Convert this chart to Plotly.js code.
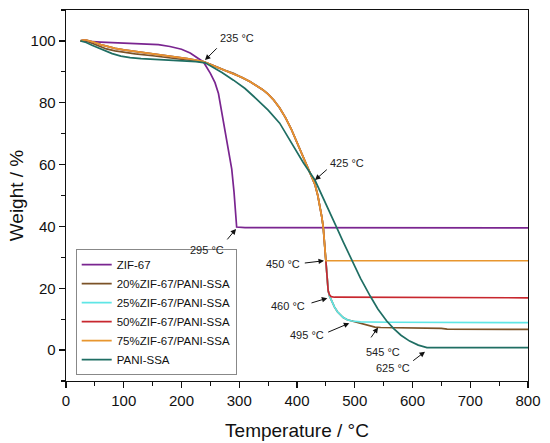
<!DOCTYPE html>
<html>
<head>
<meta charset="utf-8">
<script src="https://cdn.plot.ly/plotly-3.0.1.min.js"></script>
<style>html,body{margin:0;padding:0;background:#fff;}#chart{width:550px;height:443px;}</style>
</head>
<body>
<div id="chart"></div>
<script>
// ---- data ----
var seriesNames = ["ZIF-67", "20%ZIF-67/PANI-SSA", "25%ZIF-67/PANI-SSA", "50%ZIF-67/PANI-SSA", "75%ZIF-67/PANI-SSA", "PANI-SSA"];

var zifT = [25, 40, 60, 100, 130, 160, 180, 200, 215, 228, 238, 250, 258, 264, 275, 287, 291, 294, 295.5, 310, 400, 500, 600, 700, 800];
var zifW = [100, 99.8, 99.6, 99.3, 99.1, 98.8, 98.2, 97.3, 96.1, 94.6, 93.2, 89.5, 86.5, 83, 71, 58.5, 51, 44, 39.8, 39.6, 39.6, 39.6, 39.5, 39.5, 39.5];

var c75T = [25, 30, 35, 40, 50, 60, 70, 85, 100, 120, 150, 180, 210, 238, 250, 260, 275, 290, 305, 319, 330, 340, 350, 360, 370, 380, 390, 395, 405, 417, 425, 431, 436, 440, 443, 445.5, 447.5, 449, 450, 600, 800];
var c75W = [100, 100.3, 100.3, 100.1, 99.5, 98.8, 98.3, 97.6, 97.1, 96.6, 95.9, 95.2, 94.3, 93.3, 92.4, 91.6, 90.5, 89.5, 88.2, 86.8, 85.5, 84.3, 82.8, 80.8, 78.3, 75.2, 71.5, 69.3, 64.7, 59.3, 56.3, 53.6, 50, 46.5, 43, 39.6, 35, 31, 28.9, 28.9, 28.9];

var c50T = [25, 30, 35, 40, 50, 60, 70, 85, 100, 120, 150, 180, 210, 238, 250, 260, 275, 290, 305, 319, 330, 340, 350, 360, 370, 380, 390, 395, 405, 417, 425, 431, 436, 440, 443, 445.5, 447.5, 449, 450, 451, 452.5, 454, 456, 459, 465, 600, 800];
var c50W = [100, 100.3, 100.3, 100.1, 99.5, 98.8, 98.3, 97.6, 97.1, 96.6, 95.9, 95.2, 94.3, 93.3, 92.4, 91.6, 90.5, 89.5, 88.2, 86.8, 85.5, 84.3, 82.8, 80.8, 78.3, 75.2, 71.5, 69.3, 64.7, 59.3, 56.3, 53.6, 50, 46.5, 43, 39.6, 35, 31, 28.9, 25, 21.5, 19.2, 18, 17.3, 17.1, 17.0, 16.9];

var c25T = [25, 30, 35, 40, 50, 60, 70, 85, 100, 120, 150, 180, 210, 238, 250, 260, 275, 290, 305, 319, 330, 340, 350, 360, 370, 380, 390, 395, 405, 417, 425, 431, 436, 440, 443, 445.5, 447.5, 449, 450, 451, 452.5, 454, 456, 460, 465, 470, 475, 480, 487, 495, 510, 560, 800];
var c25W = [100, 100.3, 100.3, 100.1, 99.5, 98.8, 98.3, 97.6, 97.1, 96.6, 95.9, 95.2, 94.3, 93.3, 92.4, 91.6, 90.5, 89.5, 88.2, 86.8, 85.5, 84.3, 82.8, 80.8, 78.3, 75.2, 71.5, 69.3, 64.7, 59.3, 56.3, 53.6, 50, 46.5, 43, 39.6, 35, 31, 28.9, 25, 21.5, 19.2, 17.6, 15.8, 13.9, 12.4, 11.3, 10.5, 9.8, 9.4, 9.1, 9.0, 8.9];

var c20T = [25, 30, 35, 40, 50, 60, 70, 85, 100, 120, 150, 180, 210, 238, 250, 260, 275, 290, 305, 319, 330, 340, 350, 360, 370, 380, 390, 395, 405, 417, 425, 431, 436, 440, 443, 445.5, 447.5, 449, 450, 451, 452.5, 454, 456, 460, 465, 470, 475, 480, 487, 495, 505, 515, 525, 535, 545, 640, 650, 660, 800];
var c20W = [100, 100.2, 100.0, 99.6, 98.8, 98.0, 97.4, 96.8, 96.3, 95.8, 95.2, 94.6, 93.8, 93.2, 92.4, 91.6, 90.5, 89.5, 88.2, 86.8, 85.5, 84.3, 82.8, 80.8, 78.3, 75.2, 71.5, 69.3, 64.7, 59.3, 56.3, 53.6, 50, 46.5, 43, 39.6, 35, 31, 28.9, 25, 21.5, 19.2, 17.6, 15.8, 13.9, 12.4, 11.3, 10.5, 9.8, 9.4, 8.9, 8.3, 7.8, 7.45, 7.3, 7.2, 7.0, 6.8, 6.7];

var paniT = [25, 35, 45, 55, 65, 80, 95, 111, 130, 150, 180, 203, 225, 241, 255, 270, 290, 310, 330, 350, 370, 390, 411, 431, 450, 469, 480, 495, 510, 527, 540, 555, 567, 580, 595, 610, 625, 700, 800];
var paniW = [100, 99.5, 98.6, 97.8, 96.9, 95.9, 95.1, 94.6, 94.3, 94.1, 93.8, 93.6, 93.3, 92.9, 91.4, 89.8, 87.3, 84.6, 81.2, 77.6, 73.4, 67, 60.6, 55, 47, 39.5, 35, 29.2, 23.2, 17.4, 13.3, 9.5, 7.0, 4.8, 2.9, 1.6, 0.8, 0.8, 0.8];

var seriesColors = ["#7A2590", "#7B5227", "#5FE6E6", "#C8272E", "#E8962E", "#1F6E63"];

var annLabels = ["235 °C", "425 °C", "295 °C", "450 °C", "460 °C", "495 °C", "545 °C", "625 °C"];

// ---- traces ----
var xs = [zifT, c20T, c25T, c50T, c75T, paniT];
var ys = [zifW, c20W, c25W, c50W, c75W, paniW];
var traces = xs.map(function (x, i) {
  return {
    x: x, y: ys[i], name: seriesNames[i], type: 'scatter', mode: 'lines',
    line: {color: seriesColors[i], width: 1.7}
  };
});

// ---- annotations: [tipX, tipY, tailX, tailY, textX, textY] ----
var annPos = [
  [240.7, 93.8, 263.7, 98.1, 296.1, 100.9],
  [431.2, 55.0, 454.2, 58.8, 487.4, 60.6],
  [294.4, 39.2, 277.1, 35.3, 244.2, 32.4],
  [446.8, 28.9, 410.9, 28.1, 376.3, 27.8],
  [452.5, 16.8, 422.5, 15.1, 384.9, 14.4],
  [490.6, 8.7, 451.4, 5.6, 416.8, 4.9],
  [540.3, 7.3, 526.4, 3.6, 548.9, -0.6],
  [621.6, -0.5, 598.6, -3.8, 566.8, -5.9]
];
var annotations = [];
annPos.forEach(function (p, i) {
  annotations.push({
    x: p[0], y: p[1], ax: p[2], ay: p[3], axref: 'x', ayref: 'y', xref: 'x', yref: 'y',
    text: '', showarrow: true, arrowhead: 2, arrowsize: 1.1, arrowwidth: 1, arrowcolor: '#111', standoff: 0
  });
  annotations.push({
    x: p[4], y: p[5], xref: 'x', yref: 'y', text: annLabels[i], showarrow: false,
    font: {family: 'Liberation Sans, Arial, sans-serif', size: 11, color: '#222'}
  });
});

var axisCommon = {
  showline: true, linecolor: '#111', linewidth: 1.4, mirror: true,
  ticks: 'outside', ticklen: 6, tickwidth: 1.2, tickcolor: '#111',
  showgrid: false, zeroline: false,
  tickfont: {family: 'Liberation Sans, Arial, sans-serif', size: 15, color: '#111'}
};

var layout = {
  width: 550, height: 443,
  margin: {l: 66, r: 22, t: 10, b: 62},
  paper_bgcolor: '#fff', plot_bgcolor: '#fff',
  showlegend: true,
  legend: {
    x: 0.021, y: 0.016, xanchor: 'left', yanchor: 'bottom',
    bgcolor: '#fff', bordercolor: '#888', borderwidth: 1,
    font: {family: 'Liberation Sans, Arial, sans-serif', size: 11.5, color: '#111'},
    itemwidth: 30, tracegroupgap: 0
  },
  xaxis: Object.assign({}, axisCommon, {
    range: [0, 800], dtick: 100, tick0: 0,
    minor: {dtick: 50, ticks: 'outside', ticklen: 3.5, tickwidth: 1.2, tickcolor: '#111'},
    title: {text: 'Temperature / °C', font: {family: 'Liberation Sans, Arial, sans-serif', size: 19, color: '#111'}, standoff: 15}
  }),
  yaxis: Object.assign({}, axisCommon, {
    range: [-10, 110], dtick: 20, tick0: 0,
    minor: {dtick: 10, ticks: 'outside', ticklen: 3.5, tickwidth: 1.2, tickcolor: '#111'},
    title: {text: 'Weight / %', font: {family: 'Liberation Sans, Arial, sans-serif', size: 19, color: '#111'}, standoff: 2}
  }),
  annotations: annotations
};

Plotly.newPlot('chart', traces, layout, {displayModeBar: false, staticPlot: true});
</script>
</body>
</html>
